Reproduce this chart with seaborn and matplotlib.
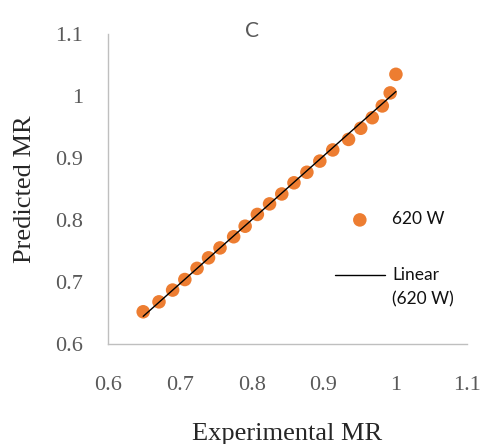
import numpy as np
import pandas as pd
import seaborn as sns
import matplotlib.pyplot as plt

# Experimental vs predicted moisture ratio, 620 W
experimental_mr = [0.649, 0.671, 0.690, 0.707, 0.724, 0.740, 0.756, 0.775, 0.791, 0.808, 0.825,
                   0.842, 0.859, 0.877, 0.895, 0.913, 0.935, 0.952, 0.968, 0.982, 0.993, 1.001]
predicted_mr = [0.652, 0.668, 0.687, 0.704, 0.722, 0.739, 0.755, 0.773, 0.790, 0.809, 0.826,
                0.842, 0.860, 0.877, 0.895, 0.913, 0.930, 0.948, 0.965, 0.984, 1.005, 1.035]
x_ticks = [0.6, 0.7, 0.8, 0.9, 1.0, 1.1]
x_ticklabels = ["0.6", "0.7", "0.8", "0.9", "1", "1.1"]
y_ticks = [0.6, 0.7, 0.8, 0.9, 1.0, 1.1]
y_ticklabels = ["0.6", "0.7", "0.8", "0.9", "1", "1.1"]

df = pd.DataFrame({"Experimental MR": experimental_mr, "Predicted MR": predicted_mr})

sns.set_style("white")
ORANGE = "#ED7D31"
GREY = "#595959"

fig = plt.figure(figsize=(4.85, 4.44), dpi=100)
ax = fig.add_axes([0.2227, 0.2252, 0.7402, 0.6982])

sns.scatterplot(data=df, x="Experimental MR", y="Predicted MR", ax=ax, color=ORANGE,
                s=95, edgecolor="none", label="620 W", zorder=2)
# linear trendline (excel style)
sns.regplot(data=df, x="Experimental MR", y="Predicted MR", ax=ax, scatter=False, ci=None,
            color="black", line_kws={"lw": 1.0, "zorder": 3}, label="Linear\n(620 W)")

ax.set_xlim(0.6, 1.1)
ax.set_ylim(0.6, 1.1)
ax.set_xticks(x_ticks)
ax.set_xticklabels(x_ticklabels)
ax.set_yticks(y_ticks)
ax.set_yticklabels(y_ticklabels)
ax.tick_params(axis="both", length=0, labelsize=16, labelcolor=GREY)
ax.tick_params(axis="x", pad=23)
ax.tick_params(axis="y", pad=18)
for lab in ax.get_xticklabels() + ax.get_yticklabels():
    lab.set_family("Liberation Serif")

for side in ["top", "right"]:
    ax.spines[side].set_visible(False)
for side in ["left", "bottom"]:
    ax.spines[side].set_color("#BFBFBF")
    ax.spines[side].set_linewidth(1.0)

ax.set_xlabel("Experimental MR", family="Liberation Serif", fontsize=19, labelpad=20)
ax.set_ylabel("Predicted MR", family="Liberation Serif", fontsize=19, labelpad=14)
ax.set_title("C", family="Lato", fontsize=15, color=GREY, x=0.40, pad=-2)

leg = ax.legend(loc="upper left", bbox_to_anchor=(0.612, 0.45), frameon=False,
                prop={"family": "Lato", "size": 12.5}, handlelength=2.9,
                handletextpad=0.4, labelspacing=2.3, borderaxespad=0)
for t in leg.get_texts():
    t.set_linespacing(1.6)
    t.set_color("#111111")
# put the trendline handle level with the first line "Linear"
line_handle = leg.legend_handles[1]
line_handle.set_ydata(np.asarray(line_handle.get_ydata()) + 9)

plt.savefig("out.png", dpi=100)
plt.close()
